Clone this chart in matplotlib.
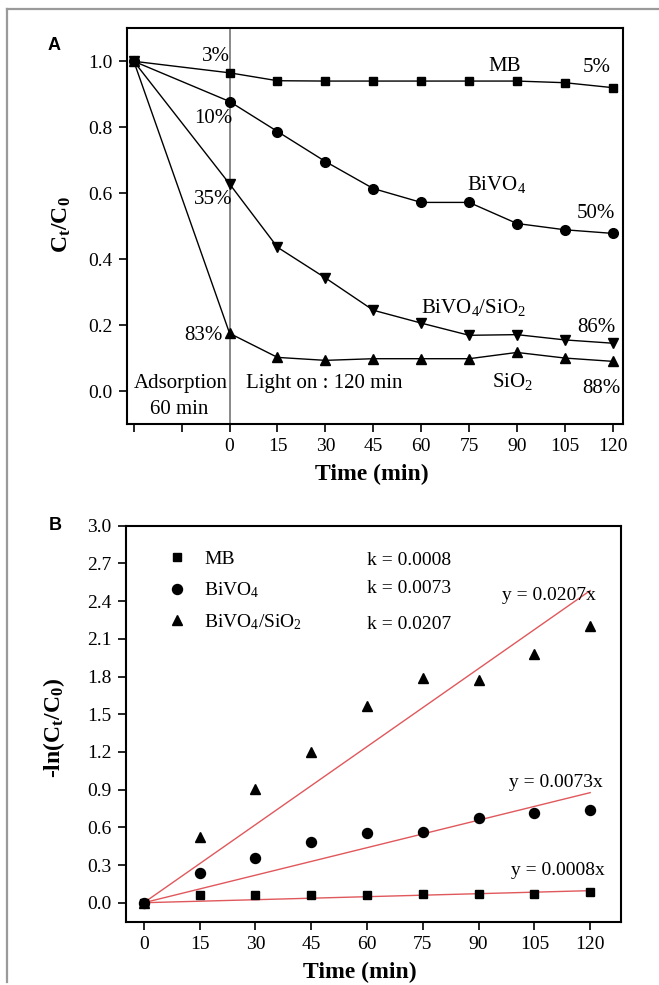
import matplotlib
matplotlib.use("Agg")
import matplotlib.pyplot as plt
from matplotlib.lines import Line2D

plt.rcParams['font.family'] = ['Liberation Serif', 'DejaVu Serif']
plt.rcParams['mathtext.default'] = 'regular'

# ---------------- data: panel A ----------------
time_a = [-30, 0, 15, 30, 45, 60, 75, 90, 105, 120]
mb_a = [1.0, 0.965, 0.941, 0.94, 0.94, 0.94, 0.94, 0.94, 0.935, 0.92]
bivo4_a = [1.0, 0.878, 0.787, 0.696, 0.614, 0.572, 0.572, 0.508, 0.489, 0.478]
bivo4_sio2_a = [1.0, 0.628, 0.436, 0.343, 0.245, 0.206, 0.169, 0.171, 0.155, 0.145]
sio2_a = [1.0, 0.175, 0.102, 0.093, 0.098, 0.098, 0.098, 0.117, 0.1, 0.09]
xticks_a = [-30, -15, 0, 15, 30, 45, 60, 75, 90, 105, 120]
xticklabels_a = ['', '', '0', '15', '30', '45', '60', '75', '90', '105', '120']
yticks_a = [0.0, 0.2, 0.4, 0.6, 0.8, 1.0]

# ---------------- data: panel B ----------------
time_b = [0, 15, 30, 45, 60, 75, 90, 105, 120]
mb_b = [0.0, 0.061, 0.061, 0.065, 0.065, 0.067, 0.07, 0.072, 0.088]
bivo4_b = [0.0, 0.233, 0.355, 0.485, 0.551, 0.559, 0.678, 0.711, 0.736]
bivo4_sio2_b = [0.0, 0.524, 0.905, 1.2, 1.567, 1.79, 1.775, 1.98, 2.2]
k_values = [0.0008, 0.0073, 0.0207]
fit_x = [0, 120]
yticks_b = [0.0, 0.3, 0.6, 0.9, 1.2, 1.5, 1.8, 2.1, 2.4, 2.7, 3.0]

W, H = 659, 985
fig = plt.figure(figsize=(W / 100, H / 100), dpi=100)

# outer light frame (top and left edges)
fig.add_artist(Line2D([7 / W, 1.0], [1 - 9 / H, 1 - 9 / H], color='#9a9a9a', lw=1.6,
                      transform=fig.transFigure))
fig.add_artist(Line2D([7 / W, 7 / W], [1 - 9 / H, 1 - 982 / H], color='#9a9a9a', lw=1.6,
                      transform=fig.transFigure))

def style_axes(ax):
    for s in ax.spines.values():
        s.set_linewidth(1.5)
    ax.tick_params(direction='out', length=6, width=1.2, labelsize=14,
                   top=False, right=False)
    ax.tick_params(axis='y', pad=4.5)
    ax.tick_params(axis='x', pad=4)

# ================= Panel A =================
axA = fig.add_axes([127.4 / W, 1 - 424 / H, 495.6 / W, 395.7 / H])
style_axes(axA)
axA.set_xlim(-32, 123.2)
axA.set_ylim(-0.1, 1.1)
axA.axvline(0, color='#6a6a6a', lw=1.1, zorder=1)
lw = 1.0
axA.plot(time_a, mb_a, '-s', color='black', lw=lw, ms=6.2, zorder=3)
axA.plot(time_a, bivo4_a, '-o', color='black', lw=lw, ms=7, zorder=3)
axA.plot(time_a, bivo4_sio2_a, '-v', color='black', lw=lw, ms=7.2, zorder=3)
axA.plot(time_a, sio2_a, '-^', color='black', lw=lw, ms=7.2, zorder=3)
axA.set_xticks(xticks_a)
axA.set_xticklabels(xticklabels_a)
axA.set_yticks(yticks_a)
axA.set_yticklabels([f'{v:.1f}' for v in yticks_a])
axA.set_xlabel('Time (min)', fontsize=17, fontweight='bold')
axA.xaxis.set_label_coords(0.494, -0.100)
axA.set_ylabel('$C_t/C_0$', fontsize=17, fontweight='bold')
axA.yaxis.set_label_coords(-0.109, 0.503)

fsA = 15
dA = 0.021  # centre -> baseline offset
txtA = [
    ('3%', 0.25, 1.023, 'right'),
    ('10%', 0.9, 0.833, 'right'),
    ('35%', 0.9, 0.588, 'right'),
    ('83%', -2.1, 0.177, 'right'),
    ('MB', 86.1, 0.993, 'center'),
    ('5%', 115.1, 0.987, 'center'),
    ('$BiVO_4$', 74.5, 0.63, 'left'),
    ('50%', 114.8, 0.545, 'center'),
    ('$BiVO_4/SiO_2$', 59.8, 0.258, 'left'),
    ('86%', 114.8, 0.20, 'center'),
    ('$SiO_2$', 82.2, 0.032, 'left'),
    ('88%', 116.4, 0.015, 'center'),
    ('Adsorption', -15.4, 0.030, 'center'),
    ('60 min', -15.9, -0.048, 'center'),
    ('Light on : 120 min', 29.8, 0.030, 'center'),
]
for s, x, y, ha in txtA:
    axA.text(x, y - dA, s, fontsize=fsA, ha=ha, va='baseline', zorder=4)

fig.text(54 / W, 1 - 45 / H, 'A', fontsize=13, fontweight='bold',
         family=['Liberation Sans', 'DejaVu Sans'], ha='center', va='center')

# ================= Panel B =================
axB = fig.add_axes([126 / W, 1 - 921.7 / H, 494.7 / W, 396 / H])
style_axes(axB)
axB.set_xlim(-4.8, 128.2)
axB.set_ylim(-0.151, 3.0)
axB.plot(time_b, mb_b, 's', color='black', ms=5.5, label='MB', zorder=3)
axB.plot(time_b, bivo4_b, 'o', color='black', ms=7.2, label='$BiVO_4$', zorder=3)
axB.plot(time_b, bivo4_sio2_b, '^', color='black', ms=7.5, label='$BiVO_4/SiO_2$', zorder=3)
for k in k_values:
    axB.plot(fit_x, [k * x for x in fit_x], '-', color='#e0585c', lw=1.0, zorder=2)
axB.set_xticks(time_b)
axB.set_yticks(yticks_b)
axB.set_yticklabels([f'{v:.1f}' for v in yticks_b])
axB.set_xlabel('Time (min)', fontsize=17, fontweight='bold')
axB.xaxis.set_label_coords(0.472, -0.102)
axB.set_ylabel('-ln($C_t/C_0$)', fontsize=17, fontweight='bold')
axB.yaxis.set_label_coords(-0.119, 0.49)

leg = axB.legend(loc='upper left', bbox_to_anchor=(0.084, 0.937), frameon=False,
                 fontsize=14, handlelength=1.0, handletextpad=0.9,
                 labelspacing=0.62, borderpad=0, borderaxespad=0, markerscale=1.0)

fsB = 14
dB = 0.052
k_y = [2.74, 2.515, 2.228]
for k, y in zip(k_values, k_y):
    axB.text(60.0, y - dB, f'k = {k:.4f}', fontsize=fsB, ha='left', va='baseline')
eq_pos = [(111.3, 0.274), (110.8, 0.976), (109.0, 2.462)]
for k, (x, y) in zip(k_values, eq_pos):
    axB.text(x, y - dB, f'y = {k:.4f}x', fontsize=fsB, ha='center', va='baseline')

fig.text(55 / W, 1 - 525 / H, 'B', fontsize=13, fontweight='bold',
         family=['Liberation Sans', 'DejaVu Sans'], ha='center', va='center')

fig.savefig('out.png', dpi=100)
